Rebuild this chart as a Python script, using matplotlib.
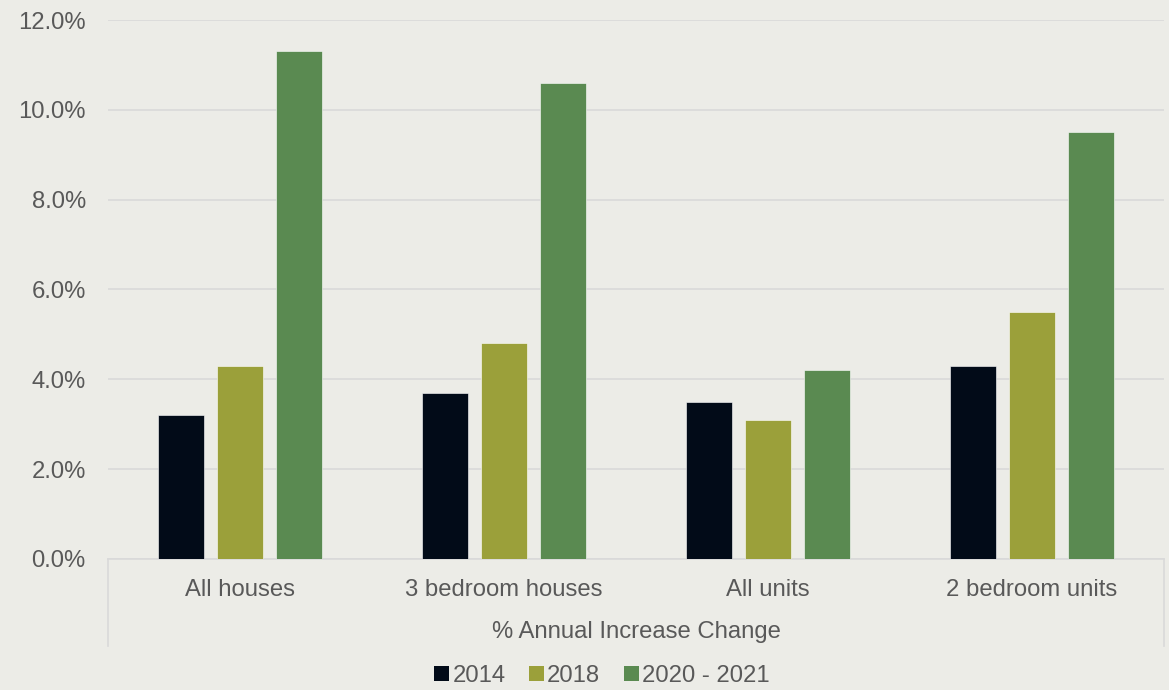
import matplotlib
matplotlib.use('Agg')
import matplotlib.pyplot as plt
from matplotlib.ticker import MultipleLocator, FuncFormatter
from matplotlib.patches import Patch
import numpy as np

plt.rcParams['font.family'] = ['Liberation Sans', 'DejaVu Sans']

categories = ['All houses', '3 bedroom houses', 'All units', '2 bedroom units']
series = ['2014', '2018', '2020 - 2021']
v2014 = [3.2, 3.7, 3.5, 4.3]
v2018 = [4.3, 4.8, 3.1, 5.5]
v2021 = [11.3, 10.6, 4.2, 9.5]
colors = ['#020B18', '#9BA03A', '#5A8A51']
group_label = '% Annual Increase Change'

bg = '#ECECE7'
txt = '#595959'
grid = '#D9D9D9'
fs = 17.2

fig = plt.figure(figsize=(11.69, 6.9), dpi=100, facecolor=bg)
ax = fig.add_axes([0.0924, 0.19, 0.9033, 0.781])
ax.set_facecolor(bg)

x = np.arange(len(categories))
w = 0.174
step = 0.223
for i, (vals, c) in enumerate(zip([v2014, v2018, v2021], colors)):
    ax.bar(x + (i - 1) * step, vals, w, color=c, edgecolor='#FFFFFF', linewidth=0.4, zorder=3)

ax.set_xlim(-0.5, len(categories) - 0.5)
ax.set_ylim(0, 12)
ax.yaxis.set_major_locator(MultipleLocator(2))
ax.yaxis.set_major_formatter(FuncFormatter(lambda v, p: '%.1f%%' % v))
ax.grid(axis='y', color=grid, linewidth=1.2, zorder=0)
ax.tick_params(axis='y', length=0, labelsize=fs, labelcolor=txt, pad=16)
ax.tick_params(axis='x', length=0, labelbottom=False)
for s in ['top', 'right', 'left']:
    ax.spines[s].set_visible(False)
ax.spines['bottom'].set_color(grid)
ax.spines['bottom'].set_linewidth(1.2)

# two-level category axis
for xi, name in zip(x, categories):
    ax.text(xi, -0.057, name, transform=ax.get_xaxis_transform(), ha='center', va='center',
            fontsize=fs, color=txt)
ax.text(0.5, -0.136, group_label, transform=ax.transAxes, ha='center', va='center',
        fontsize=fs, color=txt)
for xv in [0, 1]:
    ax.plot([xv, xv], [0, -0.161], transform=ax.transAxes, color=grid, linewidth=1.2, clip_on=False)

handles = [Patch(facecolor=c, label=s) for c, s in zip(colors, series)]
leg = fig.legend(handles=handles, loc='center', bbox_to_anchor=(0.515, 0.02), ncol=3, frameon=False,
                 fontsize=fs, handlelength=0.6, handleheight=0.6, handletextpad=0.15,
                 columnspacing=1.0, labelcolor=txt, borderpad=0.1)

fig.savefig('out.png', dpi=100, facecolor=bg)
